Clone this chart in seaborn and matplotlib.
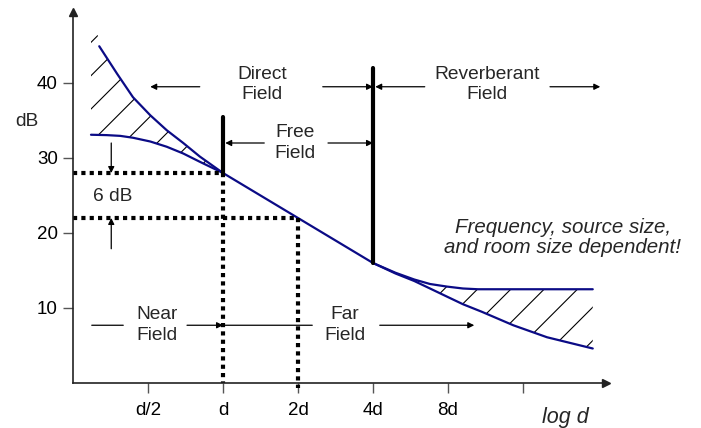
import matplotlib
matplotlib.use("Agg")
import matplotlib.pyplot as plt
import numpy as np
import pandas as pd
import seaborn as sns

# x positions are in octaves relative to d (d = 0, 2d = 1, ...), y in dB
near_x = [-1.76, -1.55, -1.37, -1.2, -0.97, -0.75, -0.53, -0.31, 0.0]
near_y = [33.1, 33.05, 32.95, 32.7, 32.2, 31.5, 30.6, 29.5, 28.0]

direct_x = [-1.65, -1.41, -1.2, -0.97, -0.75, -0.53, -0.31, 0.0]
direct_y = [44.9, 41.2, 38.1, 35.7, 33.7, 32.0, 30.2, 28.0]

far_x = [0.0, 1.0, 2.0]
far_y = [28.0, 22.0, 16.0]

rev_x = [2.0, 2.3, 2.55, 2.76, 2.99, 3.2, 3.4, 4.93]
rev_y = [16.0, 14.7, 13.8, 13.2, 12.85, 12.6, 12.5, 12.5]

decay_x = [2.0, 2.3, 2.55, 2.76, 2.99, 3.2, 3.45, 3.87, 4.32, 4.93]
decay_y = [16.0, 14.6, 13.6, 12.6, 11.5, 10.5, 9.5, 7.7, 6.1, 4.6]

tick_pos = [-1, 0, 1, 2, 3, 4]
tick_labels = ["d/2", "d", "2d", "4d", "8d", ""]
ytick_pos = [10, 20, 30, 40]

sns.set_theme(style="white")
plt.rcParams["font.family"] = ["Liberation Sans", "DejaVu Sans"]
plt.rcParams["hatch.linewidth"] = 0.8

BLUE = "#0b0b86"
FS = 13.8
LS = 1.3

fig = plt.figure(figsize=(7.01, 4.28), dpi=100)
ax = fig.add_axes([73 / 701, 45 / 428, 532.5 / 701, 371.25 / 428])
ax.set_xlim(-2, 5.1)
ax.set_ylim(0, 49.5)

curves = pd.concat([
    pd.DataFrame({"x": near_x, "y": near_y, "curve": "near"}),
    pd.DataFrame({"x": direct_x, "y": direct_y, "curve": "direct"}),
    pd.DataFrame({"x": far_x, "y": far_y, "curve": "far"}),
    pd.DataFrame({"x": rev_x, "y": rev_y, "curve": "rev"}),
    pd.DataFrame({"x": decay_x, "y": decay_y, "curve": "decay"}),
])
for name, grp in curves.groupby("curve"):
    sns.lineplot(data=grp, x="x", y="y", color=BLUE, lw=1.6, sort=False,
                 estimator=None, ax=ax, legend=False)

# hatched uncertainty regions
gx = np.linspace(near_x[0], 0, 80)
upper = np.interp(gx, direct_x, direct_y, left=direct_y[0] + 1.5)
ax.fill_between(gx, np.interp(gx, near_x, near_y), upper, facecolor="none",
                edgecolor="black", hatch="/", lw=0)
gx2 = np.linspace(rev_x[0], rev_x[-1], 80)
ax.fill_between(gx2, np.interp(gx2, decay_x, decay_y), np.interp(gx2, rev_x, rev_y),
                facecolor="none", edgecolor="black", hatch="/", lw=0)

# dotted guide lines
dot = dict(color="black", lw=3, linestyle=(0, (1, 1)), dash_capstyle="butt", clip_on=False)
ax.plot([-2, 0], [28, 28], **dot)
ax.plot([0, 0], [28, 0], **dot)
ax.plot([-2, 1], [22, 22], **dot)
ax.plot([1, 1], [22, -0.6], **dot)

# thick boundaries
ax.plot([0, 0], [28, 35.5], color="black", lw=3, solid_capstyle="round")
ax.plot([2, 2], [16, 42], color="black", lw=3, solid_capstyle="round")


def arrow(x0, y0, x1, y1, head=True):
    ax.annotate("", xy=(x1, y1), xytext=(x0, y0),
                arrowprops=dict(arrowstyle="-|>" if head else "-", color="black",
                                lw=0.9, mutation_scale=9, shrinkA=0, shrinkB=0))


def label(x, y, s):
    ax.text(x, y, s, ha="center", va="center", fontsize=FS, linespacing=LS)


arrow(-0.31, 39.5, -0.97, 39.5)
arrow(1.33, 39.5, 2.0, 39.5)
label(0.52, 39.8, "Direct\nField")

arrow(2.69, 39.5, 2.03, 39.5)
arrow(4.36, 39.5, 5.03, 39.5)
label(3.52, 39.8, "Reverberant\nField")

arrow(0.55, 32.0, 0.03, 32.0)
arrow(1.4, 32.0, 2.0, 32.0)
label(0.96, 32.0, "Free\nField")

arrow(-1.75, 7.7, -1.33, 7.7, head=False)
arrow(-0.48, 7.7, 0.0, 7.7)
label(-0.88, 7.7, "Near\nField")

arrow(0.0, 7.7, 1.19, 7.7, head=False)
arrow(2.09, 7.7, 3.35, 7.7)
label(1.63, 7.7, "Far\nField")

arrow(-1.49, 32.0, -1.49, 28.0)
arrow(-1.49, 17.9, -1.49, 22.0)
label(-1.47, 24.9, "6 dB")

ax.text(4.53, 19.4, "Frequency, source size,\nand room size dependent!",
        ha="center", va="center", fontsize=14.8, style="italic", linespacing=1.05)
ax.text(4.57, -4.6, "log d", ha="center", va="center", fontsize=15.5,
        style="italic", clip_on=False)
ax.text(-2.62, 34.8, "dB", ha="center", va="center", fontsize=FS, clip_on=False)

# axes with arrow heads
for s in ["top", "right"]:
    ax.spines[s].set_visible(False)
for s in ["left", "bottom"]:
    ax.spines[s].set_color("#222222")
    ax.spines[s].set_linewidth(1.2)
ax.plot(1, 0, ">", color="#222222", ms=6, transform=ax.transAxes, clip_on=False)
ax.plot(0, 1, "^", color="#222222", ms=6, transform=ax.transAxes, clip_on=False)

ax.set_xticks(tick_pos)
ax.set_xticklabels(tick_labels)
ax.set_yticks(ytick_pos)
ax.tick_params(axis="both", direction="out", length=7, width=1, color="#555555",
               labelsize=13.5, labelcolor="black", pad=4)
ax.tick_params(axis="x", bottom=True, pad=7)
ax.tick_params(axis="y", left=True)
ax.set_xlabel("")
ax.set_ylabel("")

fig.savefig("out.png", dpi=100)
